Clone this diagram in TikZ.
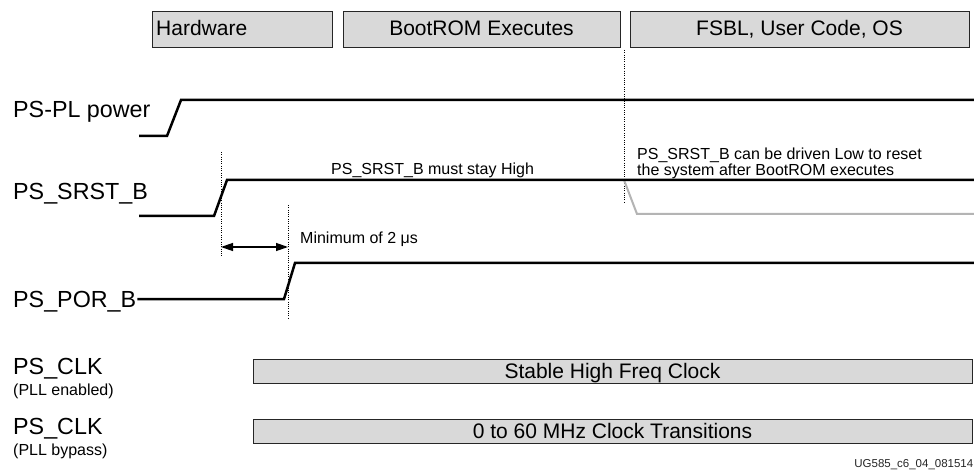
\documentclass[tikz,border=0pt]{standalone}
\usepackage{fontspec}
\setmainfont{Liberation Sans}
\usetikzlibrary{arrows.meta,calc}
\definecolor{barfill}{RGB}{217,217,217}
\definecolor{resetgray}{RGB}{180,180,180}
\newcommand\sigfont{\fontsize{23.3}{26}\selectfont}
\newcommand\phasefont{\fontsize{21}{25}\selectfont}
\newcommand\notefont{\fontsize{16}{16}\selectfont}
\newcommand\idfont{\fontsize{11.5}{13}\selectfont}
\begin{document}
\begin{tikzpicture}[x=1pt,y=-1pt,
  phase/.style={draw=black!85, line width=1.2pt, fill=barfill, inner sep=0pt, anchor=north west},
  txt/.style={inner sep=0pt, anchor=base west},
  ctxt/.style={inner sep=0pt, anchor=base},
  sig/.style={line width=2.5pt, black},
  resetsig/.style={line width=2pt, resetgray},
  guide/.style={line width=0.9pt, dash pattern=on 0.9pt off 1.4pt, black},
  span/.style={line width=1.3pt, {Triangle[length=12pt,width=8pt]}-{Triangle[length=12pt,width=8pt]}}]
\useasboundingbox (0,0) rectangle (974,470);
\fill[white] (0,0) rectangle (974,470);

% boot phases
\node[phase, minimum width=180pt, minimum height=36pt] (hw) at (152,11) {};
\node[txt, font=\phasefont] (hwt) at (156,36) {Hardware};
\node[phase, minimum width=277pt, minimum height=36pt] (brom) at (343,11) {};
\node[ctxt, font=\phasefont] (bromt) at (481.5,36) {BootROM Executes};
\node[phase, minimum width=339pt, minimum height=36pt] (fsbl) at (630,11) {};
\node[ctxt, font=\phasefont] (fsblt) at (799.5,36) {FSBL, User Code, OS};

% signal names
\node[txt, font=\sigfont] (pwr) at (13,118) {PS-PL power};
\node[txt, font=\sigfont] (srst) at (13,200) {PS\_SRST\_B};
\node[txt, font=\sigfont] (por) at (13,307) {PS\_POR\_B};
\node[txt, font=\sigfont] (clka) at (13,374) {PS\_CLK};
\node[txt, font=\notefont] (clkan) at (13,395) {(PLL enabled)};
\node[txt, font=\sigfont] (clkb) at (13,434) {PS\_CLK};
\node[txt, font=\notefont] (clkbn) at (13,455) {(PLL bypass)};

% timing guides
\coordinate (g0a) at (624,50);  \coordinate (g0b) at (624,204);
\coordinate (g1a) at (221,152); \coordinate (g1b) at (221,257);
\coordinate (g2a) at (288,205); \coordinate (g2b) at (288,318);
\draw[guide] (g0a) -- (g0b);
\draw[guide] (g1a) -- (g1b);
\draw[guide] (g2a) -- (g2b);

% PS-PL power
\coordinate (pw0) at (139,136); \coordinate (pw1) at (167,136);
\coordinate (pw2) at (181,100); \coordinate (pw3) at (974,100);
\draw[sig] (pw0) -- (pw1) -- (pw2) -- (pw3);

% PS_SRST_B, with the optional reset after BootROM
\coordinate (sr0) at (139,216); \coordinate (sr1) at (214,216);
\coordinate (sr2) at (227,180); \coordinate (sr3) at (974,180);
\coordinate (rs0) at (624,180); \coordinate (rs1) at (637,214);
\coordinate (rs2) at (974,214);
\draw[resetsig] (rs0) -- (rs1) -- (rs2);
\draw[sig] (sr0) -- (sr1) -- (sr2) -- (sr3);

% PS_POR_B
\coordinate (po1) at (284,299); \coordinate (po2) at (295,263);
\coordinate (po3) at (974,263);
\draw[sig] ($(por.base east)+(1,-8)$) -- (po1) -- (po2) -- (po3);

% minimum delay between the two resets
\coordinate (d0) at (221,247); \coordinate (d1) at (288,247);
\draw[span] (d0) -- (d1);

% notes
\node[txt, font=\notefont] (keep) at (331,175) {PS\_SRST\_B must stay High};
\node[txt, font=\notefont] (drivea) at (637,160) {PS\_SRST\_B can be driven Low to reset};
\node[txt, font=\notefont] (driveb) at (637,176) {the system after BootROM executes};
\node[txt, font=\notefont] (mindel) at (300,244) {Minimum of 2 μs};

% clocks
\node[phase, minimum width=719pt, minimum height=24pt] (bara) at (253,359) {};
\node[ctxt, font=\phasefont] (barat) at (612.5,378.5) {Stable High Freq Clock};
\node[phase, minimum width=719pt, minimum height=24pt] (barb) at (253,419) {};
\node[ctxt, font=\phasefont] (barbt) at (612.5,438.5) {0 to 60 MHz Clock Transitions};

% figure id
\node[inner sep=0pt, anchor=base east, font=\idfont, text=black!85] (figid) at (973.5,467.5) {UG585\_c6\_04\_081514};
\end{tikzpicture}
\end{document}
